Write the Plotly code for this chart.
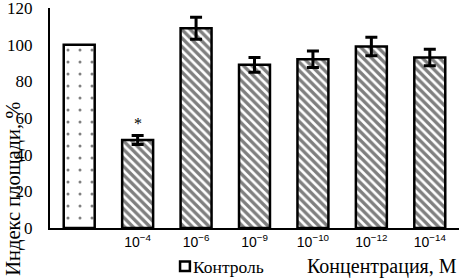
import plotly.graph_objects as go

categories = ["", "10<sup>−4</sup>", "10<sup>−6</sup>", "10<sup>−9</sup>", "10<sup>−10</sup>", "10<sup>−12</sup>", "10<sup>−14</sup>"]
control_value = [100]
treat_values = [48, 109, 89, 92, 99, 93]
treat_err = [2.5, 6, 4, 4.5, 5, 4.5]
y_ticks = [0, 20, 40, 60, 80, 100, 120]
legend_label = "Контроль"

FONT = "Liberation Serif"
xs = list(range(len(categories)))

fig = go.Figure()
fig.add_trace(go.Bar(
    x=[xs[0]], y=control_value, name=legend_label, width=0.53,
    marker=dict(color="white", line=dict(color="black", width=2.5),
                pattern=dict(shape=".", fgcolor="black", bgcolor="white", size=12, solidity=0.05)),
    showlegend=False,
))
fig.add_trace(go.Bar(
    x=xs[1:], y=treat_values, width=0.53, showlegend=False,
    error_y=dict(type="data", array=treat_err, color="black", thickness=3, width=6),
    marker=dict(color="white", line=dict(color="black", width=2.5),
                pattern=dict(shape="\\", fgcolor="black", bgcolor="white", size=6, solidity=0.55)),
))
fig.add_annotation(x=xs[1], y=treat_values[0] + treat_err[0] + 1, text="*", showarrow=False,
                   yanchor="bottom", font=dict(family=FONT, size=16, color="black"))
fig.add_annotation(xref="paper", yref="paper", x=1.0, y=-0.175, xanchor="right", yanchor="middle",
                   text="Концентрация, М", showarrow=False, font=dict(family=FONT, size=20, color="black"))
fig.add_annotation(xref="paper", yref="paper", x=-0.09, xanchor="center", y=-0.225, yanchor="bottom",
                   text="Индекс площади, %", textangle=-90, showarrow=False,
                   font=dict(family=FONT, size=20.5, color="black"))
# legend entry for the control bar
fig.add_shape(type="rect", xref="paper", yref="paper", x0=0.318, x1=0.342, y0=-0.152, y1=-0.195,
              line=dict(color="black", width=2.5), fillcolor="white")
fig.add_annotation(xref="paper", yref="paper", x=0.345, y=-0.178, xanchor="left", yanchor="middle",
                   text=legend_label, showarrow=False, font=dict(family=FONT, size=17.5, color="black"))

fig.update_layout(
    width=459, height=278,
    margin=dict(l=50, r=0, t=8, b=50),
    paper_bgcolor="white", plot_bgcolor="white",
    barmode="overlay",
    font=dict(family=FONT, size=16, color="black"),
    xaxis=dict(tickmode="array", tickvals=xs, ticktext=categories, range=[-0.5, len(xs) - 0.5],
               showline=True, linecolor="black", linewidth=2, ticks="", showgrid=False,
               tickfont=dict(family="Liberation Sans", size=14), zeroline=False),
    yaxis=dict(range=[0, 120], tickvals=y_ticks, showline=True, linecolor="black", linewidth=2,
               ticks="", showgrid=False, zeroline=False, ticklabelstandoff=12,
               ticklabeloverflow="allow", tickfont=dict(family=FONT, size=17)),
)
fig.write_html("out.html", config={"displayModeBar": False},
               post_script="document.body.style.margin='0';document.body.style.overflow='hidden';")
